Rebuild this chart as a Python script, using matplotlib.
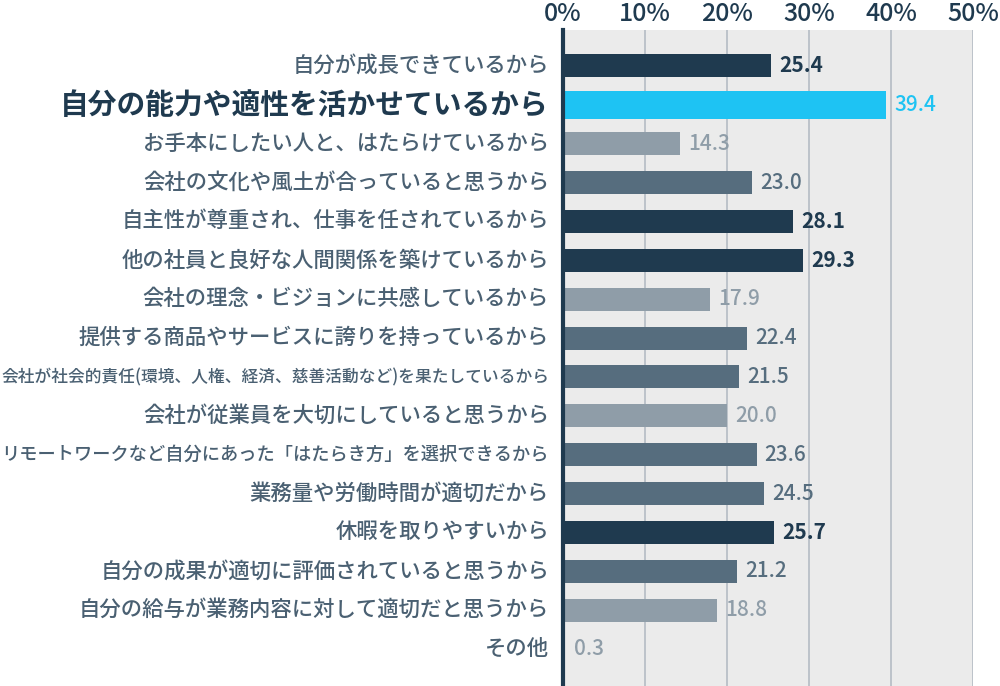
import matplotlib
matplotlib.use("Agg")
import matplotlib.pyplot as plt

plt.rcParams['font.family'] = ['Noto Sans CJK JP', 'DejaVu Sans']

categories = [
    "自分が成長できているから",
    "自分の能力や適性を活かせているから",
    "お手本にしたい人と、はたらけているから",
    "会社の文化や風土が合っていると思うから",
    "自主性が尊重され、仕事を任されているから",
    "他の社員と良好な人間関係を築けているから",
    "会社の理念・ビジョンに共感しているから",
    "提供する商品やサービスに誇りを持っているから",
    "会社が社会的責任(環境、人権、経済、慈善活動など)を果たしているから",
    "会社が従業員を大切にしていると思うから",
    "リモートワークなど自分にあった「はたらき方」を選択できるから",
    "業務量や労働時間が適切だから",
    "休暇を取りやすいから",
    "自分の成果が適切に評価されていると思うから",
    "自分の給与が業務内容に対して適切だと思うから",
    "その他",
]
values = [25.4, 39.4, 14.3, 23.0, 28.1, 29.3, 17.9, 22.4, 21.5, 20.0, 23.6, 24.5, 25.7, 21.2, 18.8, 0.3]
groups = ["dark", "hi", "light", "mid", "dark", "dark", "light", "mid", "mid", "light",
          "mid", "mid", "dark", "mid", "light", "light"]
xticks = [0, 10, 20, 30, 40, 50]
xticklabels = ["0%", "10%", "20%", "30%", "40%", "50%"]

colors = {"dark": "#1f3a4f", "hi": "#1ec3f3", "light": "#8f9da8", "mid": "#566d7e"}
label_color = "#4a6072"

fig = plt.figure(figsize=(10, 6.86), dpi=100)
ax = fig.add_axes([0.563, 0.0, 0.41, 1 - 30 / 686])
ax.set_facecolor("#ebebeb")

n = len(values)
ys = list(range(n))
for i, (v, g) in enumerate(zip(values, groups)):
    h = 0.72 if g == "hi" else 0.59
    ax.barh(i, v, height=h, color=colors[g], zorder=3)
    weight = "bold" if g == "dark" else "medium"
    ax.text(v + 1.0, i, f"{v:.1f}", va="center", ha="left", fontsize=15,
            fontweight=weight, color=colors[g], zorder=4)

ax.set_xlim(0, 50)
ax.set_ylim(n - 1 + 0.95, -0.925)
ax.set_yticks(ys)
ax.set_yticklabels([])

fig.canvas.draw()
renderer = fig.canvas.get_renderer()
max_w = 546.0
for i, c in enumerate(categories):
    if groups[i] == "hi":
        fs, fw, col = 20.7, "bold", "#1f3a4f"
    else:
        fs, fw, col = 15.4, "medium", label_color
    t = ax.text(-1.7, i, c, ha="right", va="center", fontsize=fs, fontweight=fw,
                color=col, clip_on=False)
    w = t.get_window_extent(renderer).width
    if w > max_w:
        t.set_fontsize(fs * max_w / w)

ax.xaxis.tick_top()
ax.set_xticks(xticks)
ax.set_xticklabels(xticklabels, fontsize=18, color="#1f3a4f", fontweight="medium")
ax.tick_params(axis="x", length=0, pad=2)
ax.tick_params(axis="y", length=0)
ax.grid(axis="x", color="#b4bcc4", linewidth=1.2, zorder=1)
for s in ["top", "right", "bottom"]:
    ax.spines[s].set_visible(False)
ax.spines["left"].set_color("#1f3a4f")
ax.spines["left"].set_linewidth(3)
ax.spines["left"].set_zorder(5)

fig.savefig("out.png", dpi=100)
